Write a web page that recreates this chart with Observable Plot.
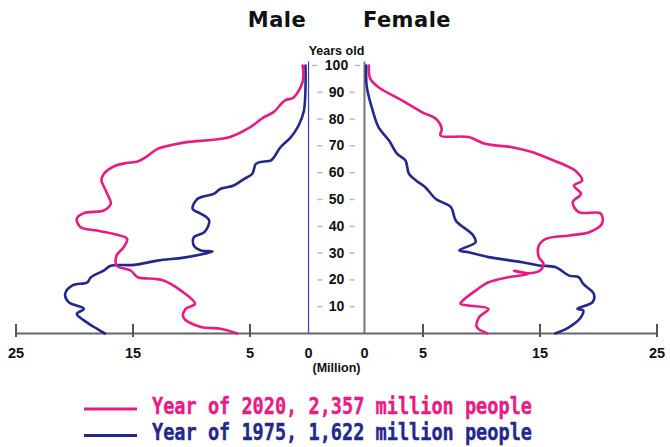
<!DOCTYPE html>
<html>
<head>
<meta charset="utf-8">
<script src="https://cdn.jsdelivr.net/npm/d3@7"></script>
<script src="https://cdn.jsdelivr.net/npm/@observablehq/plot@0.6"></script>
<style>
  html, body { margin: 0; padding: 0; background: #fff; }
  #wrap { width: 670px; height: 447px; position: relative; overflow: hidden; }
  #head { position: relative; height: 40px; width: 670px; }
  #head span { position: absolute; top: 7px; transform: translateX(-50%);
    font-family: "DejaVu Sans", sans-serif; font-weight: bold; font-size: 21px; line-height: 26px; color: #111; letter-spacing: 0.5px; }
  #chart svg { display: block; }
  #legend { display: block; }
</style>
</head>
<body>
<div id="wrap">
  <div id="head"><span style="left:277px">Male</span><span style="left:407px">Female</span></div>
  <div id="chart"></div>
  <div id="legendBox"></div>
</div>
<script>
// ---- data (age in years, population in million) ----
const male2020 = [[100,0.5],[94,0.5],[88,1.3],[87,2.0],[82.6,3.0],[80.7,3.8],[76.4,5.2],[73.3,6.7],[72.3,8.1],[71.4,10.4],[70.5,11.5],[68.9,12.9],[65.8,13.9],[64.2,14.6],[63.6,15.6],[62.4,16.6],[59.5,17.5],[57,17.7],[55.9,17.6],[52.1,17.2],[48.4,16.9],[45.9,17.5],[44.9,19.2],[42.8,19.8],[39.7,19.5],[38.4,18.1],[37.2,16.7],[35.3,15.5],[32.2,15.8],[29.1,16.4],[25.4,16.4],[23.5,15.2],[21,14.6],[20.4,13.2],[19.8,12.4],[16,10.9],[11.1,9.7],[9.2,10.5],[6.1,10.7],[2.4,9.2],[1.8,7.5],[0,6.1]];
const male1975 = [[100,0.26],[83,0.4],[77.6,0.85],[73.3,1.5],[69.5,2.4],[64.6,3.2],[64.2,3.8],[63.3,4.5],[59.6,4.8],[57.7,5.5],[55.2,6.4],[54,7.5],[52.1,8.1],[50.2,9.5],[46.5,9.9],[44.7,9.2],[42.2,8.5],[37.8,8.9],[35.9,9.8],[32.8,9.8],[31,9.2],[30.6,8.2],[28.5,10.4],[27.2,12.9],[25.6,14.9],[25.3,16.9],[23.5,17.5],[21,18.6],[19.1,18.9],[17.9,20.2],[14.8,20.8],[11.7,20.5],[9.2,19.2],[7.3,19.8],[4.9,19.2],[1.8,18.1],[0,17.4]];
const female2020 = [[100,0.37],[95,0.5],[91.9,1.2],[87,3.2],[82.6,4.9],[80.1,6.1],[76.4,6.6],[73.9,6.5],[73.3,8.9],[70.8,10.3],[69.5,12.6],[67.7,14.3],[65.2,15.8],[62.7,17.2],[60.8,18.0],[57.1,18.6],[55.2,17.9],[52.1,18.5],[49,17.8],[45.3,18.3],[44.7,20.2],[41,20.3],[37.8,19.2],[36.6,17.5],[35.3,15.5],[32.8,14.9],[28.5,14.9],[26,15.3],[23.5,15.0],[22.5,14.0],[23.4,12.8],[22.2,14.0],[21,12.3],[19.1,10.6],[16,9.5],[12.3,8.4],[11.1,8.2],[9.2,10.6],[6.1,9.8],[2.4,9.6],[0,10.5]];
const female1975 = [[100,0.15],[92,0.2],[83.2,0.7],[77,1.2],[72,2.1],[67,2.8],[64.6,3.5],[59.6,3.8],[57.1,4.4],[54.6,5.2],[50.2,6.1],[47.1,7.4],[42.2,7.8],[36.6,9.3],[34.1,9.5],[31,8.1],[30.3,8.9],[28.5,10.6],[26.6,13.5],[25.4,14.9],[24.8,16.3],[21.6,17.5],[21,18.3],[18.5,18.7],[14.8,19.6],[11.7,19.5],[9.2,18.2],[8.6,18.7],[6.1,18.5],[2.4,17.5],[0,16.3]];
const ageTicks = [10,20,30,40,50,60,70,80,90,100];
const popTicks = [25,15,5,0];
const seriesLabels = ["Year of 2020, 2,357 million people", "Year of 1975, 1,622 million people"];

const PINK = "#ea1a85", NAVY = "#22288e";
const G = 2.39; // half gap between panels (in million units)
const toRows = (arr, side) => arr.map(([age, v]) => ({age, v, side}));
const xOf = d => d.side === "M" ? -(d.v + G) : d.v + G;

const tickRows = popTicks.flatMap(t => [{v: t, side: "M"}, {v: t, side: "F"}]);
const majorTicks = tickRows.filter(d => d.v > 0);
const font = "Liberation Sans, Arial, sans-serif";

const chart = Plot.plot({
  width: 670, height: 340,
  marginTop: 25, marginBottom: 47, marginLeft: 15.5, marginRight: 13.5,
  x: {domain: [-(25 + G), 25 + G], axis: null},
  y: {domain: [0, 100], axis: null},
  style: {fontFamily: font, background: "white", color: "#111"},
  marks: [
    // age dashes
    Plot.ruleY(ageTicks, {y: d => d, x1: d => d >= 100 ? -2.05 : -1.6, x2: d => d >= 100 ? -1.6 : -1.15, stroke: "#bbb", strokeWidth: 1.5}),
    Plot.ruleY(ageTicks, {y: d => d, x1: d => d >= 100 ? 1.6 : 1.15, x2: d => d >= 100 ? 2.05 : 1.6, stroke: "#bbb", strokeWidth: 1.5}),
    // center axes
    Plot.ruleX([-G], {y1: 0, y2: 101.3, stroke: "#3540b8", strokeWidth: 1.2}),
    Plot.ruleX([G], {y1: 0, y2: 101.3, stroke: "#777", strokeWidth: 2}),
    // horizontal axis
    Plot.ruleY([0], {x1: -(25 + G), x2: 25 + G, stroke: "#666", strokeWidth: 2}),
    Plot.ruleX(majorTicks, {x: xOf, y1: -1.5, y2: 3.4, stroke: "#555", strokeWidth: 2}),
    Plot.text(tickRows, {x: xOf, y: 0, text: d => String(d.v), dy: 20, fontSize: 14.5, fontWeight: "bold", fill: "#111"}),
    Plot.text(["(Million)"], {x: 0, y: 0, text: d => d, dy: 34, fontSize: 12.5, fontWeight: "bold", fill: "#111"}),
    // age labels
    Plot.text(ageTicks, {x: 0, y: d => d, text: d => String(d), fontSize: 14, fontWeight: "bold", fill: "#111"}),
    Plot.text(["Years old"], {x: 0, frameAnchor: "top", text: d => d, dy: -19, fontSize: 12.5, fontWeight: "bold", fill: "#111"}),
    // population lines
    Plot.line(toRows(male1975, "M"), {x: xOf, y: "age", stroke: NAVY, strokeWidth: 2.6, curve: "catmull-rom"}),
    Plot.line(toRows(female1975, "F"), {x: xOf, y: "age", stroke: NAVY, strokeWidth: 2.6, curve: "catmull-rom"}),
    Plot.line(toRows(male2020, "M"), {x: xOf, y: "age", stroke: PINK, strokeWidth: 2.6, curve: "catmull-rom"}),
    Plot.line(toRows(female2020, "F"), {x: xOf, y: "age", stroke: PINK, strokeWidth: 2.6, curve: "catmull-rom"})
  ]
});
document.getElementById("chart").appendChild(chart);

// legend
const colors = [PINK, NAVY];
const lg = d3.select("#legendBox").append("svg").attr("id", "legend").attr("width", 670).attr("height", 67);
seriesLabels.forEach((label, i) => {
  const cy = 29 + i * 26.5;
  lg.append("line").attr("x1", 84).attr("x2", 137).attr("y1", cy).attr("y2", cy)
    .attr("stroke", colors[i]).attr("stroke-width", 3);
  lg.append("text").attr("x", 152).attr("y", cy + 4.5).attr("fill", colors[i])
    .attr("font-family", "DejaVu Sans Mono, monospace").attr("font-weight", "bold")
    .attr("font-size", 23).attr("textLength", 380).attr("lengthAdjust", "spacingAndGlyphs")
    .attr("stroke", colors[i]).attr("stroke-width", 0.4)
    .text(label);
});
</script>
</body>
</html>
